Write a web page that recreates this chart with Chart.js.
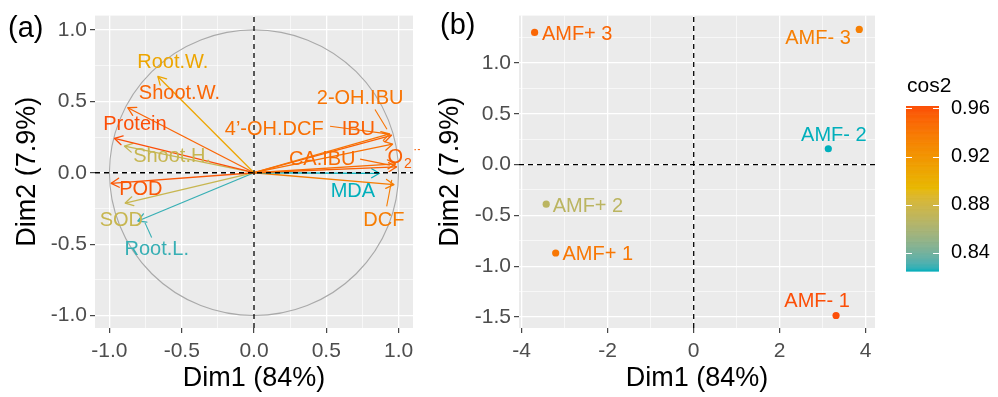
<!DOCTYPE html>
<html>
<head>
<meta charset="utf-8">
<script src="https://cdn.jsdelivr.net/npm/chart.js@4.4.1/dist/chart.umd.min.js"></script>
<style>
  html, body { margin: 0; padding: 0; background: #ffffff; }
  #wrap { position: relative; width: 998px; height: 397px; overflow: hidden; }
  canvas { position: absolute; top: 0; }
  #cvA { left: 0; }
  #cvB { left: 420px; }
</style>
</head>
<body>
<div id="wrap">
  <canvas id="cvA" width="420" height="397"></canvas>
  <canvas id="cvB" width="578" height="397"></canvas>
</div>
<script>
// ---------------- data: variables (correlation circle) ----------------
const varNames = ['Root.W.', 'Shoot.W.', 'Protein', 'Shoot.H.', 'POD', 'SOD', 'Root.L.',
                  '2-OH.IBU', 'IBU', '4\u2019-OH.DCF', 'CA.IBU', 'O\u2082\u00B7\u207B', 'MDA', 'DCF'];
const varDim1 = [-0.665, -0.873, -0.965, -0.896, -0.988, -0.891, -0.803,
                  0.938,  0.951,  0.958,  0.979,  0.986,  0.868,  0.968];
const varDim2 = [ 0.674,  0.455,  0.240,  0.186, -0.074, -0.212, -0.338,
                  0.272,  0.262,  0.200,  0.062,  0.041, -0.004, -0.083];

// ---------------- data: individuals ----------------
const indNames = ['AMF+ 1', 'AMF+ 2', 'AMF+ 3', 'AMF- 1', 'AMF- 2', 'AMF- 3'];
const indDim1  = [-3.21, -3.43, -3.70,  3.31, 3.13, 3.85];
const indDim2  = [-0.87, -0.39,  1.30, -1.485, 0.156, 1.33];
const indCos2  = [0.940, 0.868, 0.950, 0.962, 0.825, 0.935];

// ---------------- axis ticks ----------------
const aMajor = [-1, -0.5, 0, 0.5, 1];
const aTickLabels = ['-1.0', '-0.5', '0.0', '0.5', '1.0'];
const aMinor = [-0.75, -0.25, 0.25, 0.75];

const bXMajor = [-4, -2, 0, 2, 4];
const bXTickLabels = ['-4', '-2', '0', '2', '4'];
const bXMinor = [-3, -1, 1, 3];
const bYMajor = [-1.5, -1, -0.5, 0, 0.5, 1];
const bYTickLabels = ['-1.5', '-1.0', '-0.5', '0.0', '0.5', '1.0'];
const bYMinor = [-1.25, -0.75, -0.25, 0.25, 0.75, 1.25];

const legendTicks = [0.84, 0.88, 0.92, 0.96];
const legendTickLabels = ['0.84', '0.88', '0.92', '0.96'];

// ---------------- layout / styling (not data) ----------------
const FONT = "'Liberation Sans', Arial, Helvetica, sans-serif";
const gradientCols = ['#00AFBB', '#E7B800', '#FC4E07'];
const aLim = { xmin: -1.1, xmax: 1.1, ymin: -1.087, ymax: 1.1 };
const bLim = { xmin: -4.063, xmax: 4.216, ymin: -1.608, ymax: 1.466 };

// label anchor positions (centre of text) in data units
const varLabelX = [-0.562, -0.516, -0.824, -0.567, -0.783, -0.918, -0.673,
                    0.734,  0.722,  0.140,  0.472,  1.045,  0.684,  0.898];
const varLabelY = [ 0.772,  0.554,  0.336,  0.111, -0.114, -0.332, -0.540,
                    0.520,  0.301,  0.301,  0.093,  0.105, -0.131, -0.332];
// leader segments from repelled labels [x1, y1, x2, y2]
const varLeaders = {
  '2-OH.IBU':      [0.837, 0.443, 0.920, 0.304],
  '4\u2019-OH.DCF': [0.526, 0.325, 0.925, 0.272],
  'CA.IBU':        [0.734, 0.095, 0.940, 0.053],
  'DCF':           [0.953, -0.050, 0.918, -0.235],
  'Root.L.':       [-0.754, -0.351, -0.708, -0.454]
};
const indLabelX = [-2.23, -2.46, -2.71, 2.87, 3.26, 2.89];
const indLabelY = [-0.888, -0.411, 1.281, -1.352, 0.286, 1.242];

// ---------------- colour ramp in CIE Lab ----------------
const WHITE = [0.95047, 1, 1.08883];
function hexToRgb(h) { return [1, 3, 5].map(i => parseInt(h.slice(i, i + 2), 16)); }
function toLin(c) { c /= 255; return c <= 0.04045 ? c / 12.92 : Math.pow((c + 0.055) / 1.055, 2.4); }
function fromLin(c) {
  c = c <= 0.0031308 ? 12.92 * c : 1.055 * Math.pow(c, 1 / 2.4) - 0.055;
  return Math.round(Math.max(0, Math.min(1, c)) * 255);
}
function rgbToLab(rgb) {
  const [r, g, b] = rgb.map(toLin);
  const X = r * 0.4124564 + g * 0.3575761 + b * 0.1804375;
  const Y = r * 0.2126729 + g * 0.7151522 + b * 0.0721750;
  const Z = r * 0.0193339 + g * 0.1191920 + b * 0.9503041;
  const f = t => t > 0.008856 ? Math.cbrt(t) : (7.787 * t + 16 / 116);
  const fx = f(X / WHITE[0]), fy = f(Y / WHITE[1]), fz = f(Z / WHITE[2]);
  return [116 * fy - 16, 500 * (fx - fy), 200 * (fy - fz)];
}
function labToRgb(lab) {
  const fy = (lab[0] + 16) / 116, fx = fy + lab[1] / 500, fz = fy - lab[2] / 200;
  const inv = t => t * t * t > 0.008856 ? t * t * t : (t - 16 / 116) / 7.787;
  const X = inv(fx) * WHITE[0], Y = inv(fy) * WHITE[1], Z = inv(fz) * WHITE[2];
  const r = X * 3.2404542 - Y * 1.5371385 - Z * 0.4985314;
  const g = -X * 0.9692660 + Y * 1.8760108 + Z * 0.0415560;
  const b = X * 0.0556434 - Y * 0.2040259 + Z * 1.0572252;
  return [r, g, b].map(fromLin);
}
const labStops = gradientCols.map(c => rgbToLab(hexToRgb(c)));
function ramp(t) {
  t = Math.max(0, Math.min(1, t));
  const seg = t < 0.5 ? 0 : 1;
  const u = (t - seg * 0.5) / 0.5;
  const a = labStops[seg], b = labStops[seg + 1];
  const rgb = labToRgb([0, 1, 2].map(i => a[i] + (b[i] - a[i]) * u));
  return 'rgb(' + rgb.join(',') + ')';
}

// cos2 of each variable on the first plane
const varCos2 = varDim1.map((x, i) => x * x + varDim2[i] * varDim2[i]);
const vMin = Math.min(...varCos2), vMax = Math.max(...varCos2);
const varColors = varCos2.map(c => ramp((c - vMin) / (vMax - vMin)));
const iMin = Math.min(...indCos2), iMax = Math.max(...indCos2);
const indColors = indCos2.map(c => ramp((c - iMin) / (iMax - iMin)));

// ---------------- shared helpers ----------------
function axisOpts(pos, min, max, major, labels, minor, title, fitSize, titlePad) {
  const isMajor = c => c.tick && major.indexOf(c.tick.value) >= 0;
  return {
    type: 'linear', position: pos, min: min, max: max,
    afterBuildTicks: s => { s.ticks = major.concat(minor).sort((p, q) => p - q).map(v => ({ value: v })); },
    afterFit: s => { if (pos === 'left') s.width = fitSize; else s.height = fitSize; },
    ticks: {
      autoSkip: false, maxRotation: 0, minRotation: 0,
      padding: pos === 'left' ? 3 : 6,
      color: '#4D4D4D', font: { family: FONT, size: 21 },
      callback: v => { const i = major.indexOf(v); return i < 0 ? '' : labels[i]; }
    },
    grid: {
      color: '#FFFFFF',
      lineWidth: c => isMajor(c) ? 1.3 : 0.6,
      tickColor: c => isMajor(c) ? '#333333' : 'rgba(0,0,0,0)',
      tickLength: 5, tickWidth: 1.1, drawOnChartArea: true, drawTicks: true
    },
    border: { display: false },
    title: { display: true, text: title, color: '#000000', font: { family: FONT, size: 27 }, padding: titlePad }
  };
}

const panelBg = {
  id: 'panelBg',
  beforeDraw(chart) {
    const { ctx, chartArea: a } = chart;
    ctx.save();
    ctx.fillStyle = '#EBEBEB';
    ctx.fillRect(a.left, a.top, a.right - a.left, a.bottom - a.top);
    ctx.restore();
  }
};

function tag(text, x, y) {
  return {
    id: 'tag',
    afterDraw(chart) {
      const ctx = chart.ctx;
      ctx.save();
      ctx.fillStyle = '#000';
      ctx.font = '29px ' + FONT;
      ctx.textAlign = 'left';
      ctx.textBaseline = 'alphabetic';
      ctx.fillText(text, x, y);
      ctx.restore();
    }
  };
}

function dashedLine(points) {
  return {
    type: 'line', data: points, borderColor: '#000000', borderWidth: 1.3,
    borderDash: [5, 4], pointRadius: 0, order: 0, fill: false, tension: 0
  };
}

// ---------------- panel (a): variables ----------------
const arrowSets = varNames.map((n, i) => ({
  type: 'line', label: n, isArrow: true,
  data: [{ x: 0, y: 0 }, { x: varDim1[i], y: varDim2[i] }],
  borderColor: varColors[i], borderWidth: 1.3, pointRadius: 0, order: 1, fill: false
}));

const circlePlugin = {
  id: 'circle',
  beforeDatasetsDraw(chart) {
    const { ctx, scales: { x, y } } = chart;
    const cx = x.getPixelForValue(0), cy = y.getPixelForValue(0);
    const rx = x.getPixelForValue(1) - cx, ry = cy - y.getPixelForValue(1);
    ctx.save();
    ctx.strokeStyle = '#A9A9A9';
    ctx.lineWidth = 1.1;
    ctx.beginPath();
    ctx.ellipse(cx, cy, rx, ry, 0, 0, Math.PI * 2);
    ctx.stroke();
    ctx.restore();
  }
};

const arrowHeads = {
  id: 'arrowHeads',
  afterDatasetDraw(chart, args) {
    const ds = chart.data.datasets[args.index];
    if (!ds.isArrow) return;
    const p0 = args.meta.data[0], p1 = args.meta.data[1];
    const ang = Math.atan2(p1.y - p0.y, p1.x - p0.x);
    const ctx = chart.ctx, len = 9;
    ctx.save();
    ctx.strokeStyle = ds.borderColor;
    ctx.lineWidth = ds.borderWidth;
    ctx.lineCap = 'round';
    ctx.beginPath();
    [-1, 1].forEach(s => {
      const a = ang + Math.PI + s * Math.PI / 6;
      ctx.moveTo(p1.x + len * Math.cos(a), p1.y + len * Math.sin(a));
      ctx.lineTo(p1.x, p1.y);
    });
    ctx.stroke();
    ctx.restore();
  }
};

function drawVarLabel(ctx, name, px, py, color) {
  ctx.fillStyle = color;
  ctx.textBaseline = 'middle';
  if (name === 'O\u2082\u00B7\u207B') {
    const parts = [['O', 20, 0], ['2', 14, 6], ['\u00B7-', 13, -8]];
    let w = 0;
    parts.forEach(p => { ctx.font = p[1] + 'px ' + FONT; w += ctx.measureText(p[0]).width + 1; });
    let cx = px - w / 2;
    ctx.textAlign = 'left';
    parts.forEach(p => {
      ctx.font = p[1] + 'px ' + FONT;
      ctx.fillText(p[0], cx, py + p[2]);
      cx += ctx.measureText(p[0]).width + 1;
    });
    return;
  }
  ctx.font = '20px ' + FONT;
  ctx.textAlign = 'center';
  ctx.fillText(name, px, py);
}

const varLabels = {
  id: 'varLabels',
  afterDatasetsDraw(chart) {
    const { ctx, scales: { x, y } } = chart;
    ctx.save();
    varNames.forEach((n, i) => {
      const seg = varLeaders[n];
      if (seg) {
        ctx.strokeStyle = varColors[i];
        ctx.lineWidth = 1.1;
        ctx.beginPath();
        ctx.moveTo(x.getPixelForValue(seg[0]), y.getPixelForValue(seg[1]));
        ctx.lineTo(x.getPixelForValue(seg[2]), y.getPixelForValue(seg[3]));
        ctx.stroke();
      }
    });
    varNames.forEach((n, i) => {
      drawVarLabel(ctx, n, x.getPixelForValue(varLabelX[i]), y.getPixelForValue(varLabelY[i]), varColors[i]);
    });
    ctx.restore();
  }
};

new Chart(document.getElementById('cvA'), {
  type: 'line',
  data: {
    datasets: [
      dashedLine([{ x: aLim.xmin, y: 0 }, { x: aLim.xmax, y: 0 }]),
      dashedLine([{ x: 0, y: aLim.ymin }, { x: 0, y: aLim.ymax }])
    ].concat(arrowSets)
  },
  options: {
    responsive: false, animation: false, devicePixelRatio: 1,
    layout: { padding: { top: 12, right: 7, left: 0, bottom: 0 } },
    plugins: { legend: { display: false }, tooltip: { enabled: false } },
    scales: {
      x: axisOpts('bottom', aLim.xmin, aLim.xmax, aMajor, aTickLabels, aMinor, 'Dim1 (84%)', 69, { top: 0, bottom: 2 }),
      y: axisOpts('left', aLim.ymin, aLim.ymax, aMajor, aTickLabels, aMinor, 'Dim2 (7.9%)', 95, { top: 11, bottom: 0 })
    }
  },
  plugins: [panelBg, circlePlugin, arrowHeads, varLabels, tag('(a)', 8, 37)]
});

// ---------------- panel (b): individuals ----------------
const indLabels = {
  id: 'indLabels',
  afterDatasetsDraw(chart) {
    const { ctx, scales: { x, y } } = chart;
    ctx.save();
    ctx.font = '20px ' + FONT;
    ctx.textAlign = 'center';
    ctx.textBaseline = 'middle';
    indNames.forEach((n, i) => {
      ctx.fillStyle = indColors[i];
      ctx.fillText(n, x.getPixelForValue(indLabelX[i]), y.getPixelForValue(indLabelY[i]));
    });
    ctx.restore();
  }
};

const cosLegend = {
  id: 'cosLegend',
  afterDraw(chart) {
    const ctx = chart.ctx;
    const left = 486, width = 33, top = 106, bottom = 271;
    const pos = v => top + (iMax - v) / (iMax - iMin) * (bottom - top);
    ctx.save();
    ctx.fillStyle = '#000';
    ctx.font = '21px ' + FONT;
    ctx.textAlign = 'left';
    ctx.textBaseline = 'alphabetic';
    ctx.fillText('cos2', 487, 92);
    const n = 300, h = (bottom - top) / n;
    for (let k = 0; k < n; k++) {
      ctx.fillStyle = ramp(1 - (k + 0.5) / n);
      ctx.fillRect(left, top + k * h, width, h + 0.6);
    }
    ctx.strokeStyle = '#FFFFFF';
    ctx.lineWidth = 1;
    ctx.font = '20px ' + FONT;
    ctx.textBaseline = 'middle';
    legendTicks.forEach((v, i) => {
      const yy = Math.round(pos(v)) + 0.5;
      ctx.beginPath();
      ctx.moveTo(left, yy); ctx.lineTo(left + 6, yy);
      ctx.moveTo(left + width - 6, yy); ctx.lineTo(left + width, yy);
      ctx.stroke();
      ctx.fillStyle = '#000';
      ctx.fillText(legendTickLabels[i], 531, pos(v));
    });
    ctx.restore();
  }
};

new Chart(document.getElementById('cvB'), {
  type: 'scatter',
  data: {
    datasets: [
      dashedLine([{ x: bLim.xmin, y: 0 }, { x: bLim.xmax, y: 0 }]),
      dashedLine([{ x: 0, y: bLim.ymin }, { x: 0, y: bLim.ymax }]),
      {
        type: 'scatter', label: 'individuals',
        data: indNames.map((n, i) => ({ x: indDim1[i], y: indDim2[i] })),
        pointRadius: 3.6, pointBorderWidth: 0,
        pointBackgroundColor: indColors, pointBorderColor: indColors, order: 1
      }
    ]
  },
  options: {
    responsive: false, animation: false, devicePixelRatio: 1,
    layout: { padding: { top: 12, right: 123, left: 0, bottom: 0 } },
    plugins: { legend: { display: false }, tooltip: { enabled: false } },
    scales: {
      x: axisOpts('bottom', bLim.xmin, bLim.xmax, bXMajor, bXTickLabels, bXMinor, 'Dim1 (84%)', 69, { top: 0, bottom: 2 }),
      y: axisOpts('left', bLim.ymin, bLim.ymax, bYMajor, bYTickLabels, bYMinor, 'Dim2 (7.9%)', 99, { top: 14, bottom: 0 })
    }
  },
  plugins: [panelBg, indLabels, cosLegend, tag('(b)', 20, 34)]
});
</script>
</body>
</html>
